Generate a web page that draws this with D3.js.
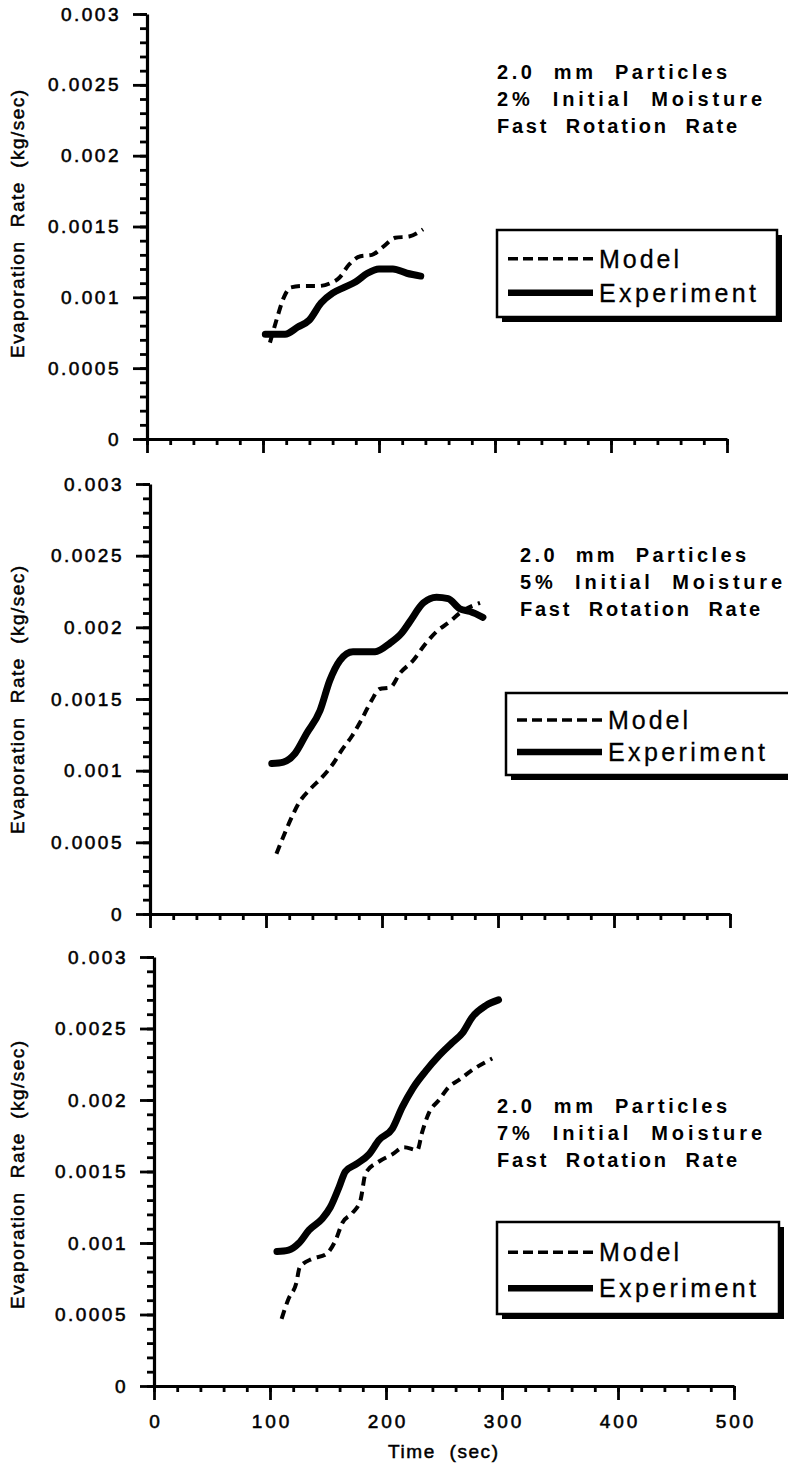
<!DOCTYPE html>
<html><head><meta charset="utf-8">
<script src="https://cdn.jsdelivr.net/npm/d3@7"></script>
<style>
body{margin:0;background:#fff;}
text{font-family:"Liberation Sans",Arial,sans-serif;fill:#000;}
</style></head><body>
<script>
// ---------- data ----------
const xTickValues = [0,100,200,300,400,500];
const xTickLabels = ["0","100","200","300","400","500"];
const yTickValues = [0,0.0005,0.001,0.0015,0.002,0.0025,0.003];
const yTickLabels = ["0","0.0005","0.001","0.0015","0.002","0.0025","0.003"];
const seriesNames = ["Model","Experiment"];
const xTitle = "Time  (sec)";
const yTitle = "Evaporation  Rate  (kg/sec)";

// panel 1 : 2% moisture  [time (s), rate (kg/s)]
const model2 = [[106,0.00068],[112,0.00085],[118,0.001],[124,0.00107],[134,0.00108],[148,0.00108],[158,0.0011],[166,0.00114],[174,0.00123],[184,0.00129],[194,0.0013],[204,0.00136],[214,0.00142],[226,0.00143],[238,0.00148]];
const exp2   = [[102,0.00074],[119,0.00074],[130,0.00079],[140,0.00084],[150,0.00096],[160,0.00103],[170,0.00107],[180,0.00111],[190,0.00117],[200,0.0012],[212,0.0012],[224,0.00117],[236,0.00115]];
const notes2 = ["2.0  mm  Particles","2%  Initial  Moisture","Fast  Rotation  Rate"];

// panel 2 : 5% moisture
const model5 = [[109,0.00042],[116,0.00056],[123.6,0.0007],[128,0.00077],[138,0.00087],[149,0.00096],[158,0.00105],[165,0.00114],[174,0.00124],[182,0.00135],[191,0.00149],[198,0.00157],[207,0.00158],[215.5,0.00168],[227,0.00177],[237,0.00188],[247,0.00197],[258.6,0.00204],[267,0.0021],[284.5,0.00217]];
const exp5   = [[105,0.00105],[115,0.00106],[125,0.00112],[135,0.00126],[146.6,0.00142],[155,0.00163],[163.8,0.00177],[175,0.00183],[194,0.00183],[207,0.00189],[217,0.00196],[224,0.00204],[235.6,0.00217],[247,0.00221],[257,0.0022],[267,0.00213],[276,0.00211],[287,0.00207]];
const notes5 = ["2.0  mm  Particles","5%  Initial  Moisture","Fast  Rotation  Rate"];

// panel 3 : 7% moisture
const model7 = [[110,0.00047],[116,0.00061],[122.7,0.00072],[125.6,0.00083],[136.5,0.00089],[148,0.00092],[156.6,0.00102],[162.3,0.00114],[171,0.00121],[178,0.0013],[182.5,0.00149],[194,0.00157],[205.5,0.00162],[215.5,0.00167],[227,0.00165],[231,0.00177],[237,0.00191],[245.7,0.002],[254,0.00209],[263,0.00214],[274.4,0.00221],[291.6,0.00229]];
const exp7   = [[106,0.00094],[116,0.00095],[125,0.001],[133.6,0.00109],[145,0.00117],[152,0.00125],[159.5,0.00139],[165,0.0015],[174,0.00155],[185.3,0.00162],[194,0.00172],[205.5,0.0018],[214,0.00195],[223,0.00208],[234,0.0022],[245.7,0.00231],[257,0.0024],[266,0.00247],[274.4,0.00258],[286,0.00266],[297,0.0027]];
const notes7 = ["2.0  mm  Particles","7%  Initial  Moisture","Fast  Rotation  Rate"];

// ---------- layout ----------
const panels = [
  {x0:147,x1:727,yT:14, yB:439, model:model2,exp:exp2,notes:notes2,nx:497,ny:79,  noteW:[230,265,240], leg:{x:497,y:230,w:280,h:87}, ylab:224, xlabels:false},
  {x0:150,x1:730,yT:484,yB:914, model:model5,exp:exp5,notes:notes5,nx:520,ny:562, noteW:[226,262,240], leg:{x:506,y:693,w:284,h:82}, ylab:700, xlabels:false},
  {x0:154,x1:734,yT:957,yB:1386,model:model7,exp:exp7,notes:notes7,nx:497,ny:1113,noteW:[230,265,240], leg:{x:497,y:1222,w:282,h:92}, ylab:1175, xlabels:true}
];

const FONT = "Liberation Sans, Arial, sans-serif";
const svg = d3.select("body").append("svg").attr("width",788).attr("height",1467);

panels.forEach(p=>{
  const x = d3.scaleLinear().domain([0,500]).range([p.x0,p.x1]);
  const y = d3.scaleLinear().domain([0,0.003]).range([p.yB,p.yT]);
  const g = svg.append("g");

  // y axis: minor ticks
  g.append("g").attr("transform",`translate(${p.x0},0)`)
    .call(d3.axisLeft(y).tickValues(d3.range(0,31).map(i=>i/10000)).tickSize(7).tickSizeOuter(0).tickFormat(""))
    .call(a=>a.selectAll("line").attr("stroke","#000").attr("stroke-width",2.8))
    .call(a=>a.select(".domain").attr("stroke","#000").attr("stroke-width",3.2));
  // y axis: major ticks + labels
  g.append("g").attr("transform",`translate(${p.x0},0)`)
    .call(d3.axisLeft(y).tickValues(yTickValues).tickSize(14).tickSizeOuter(0).tickPadding(12)
      .tickFormat((d,i)=>yTickLabels[i]))
    .call(a=>a.select(".domain").remove())
    .call(a=>a.selectAll("line").attr("stroke","#000").attr("stroke-width",2.8))
    .call(a=>a.selectAll("text").attr("font-size",19).style("letter-spacing","2.5px")
      .attr("font-family",FONT).attr("fill","#000").attr("stroke","#000").attr("stroke-width",0.55));

  // x axis: minor
  g.append("g").attr("transform",`translate(0,${p.yB})`)
    .call(d3.axisBottom(x).tickValues(d3.range(0,501,20)).tickSize(6).tickSizeOuter(0).tickFormat(""))
    .call(a=>a.selectAll("line").attr("stroke","#000").attr("stroke-width",2.8))
    .call(a=>a.select(".domain").attr("stroke","#000").attr("stroke-width",3.2));
  // x axis: major
  g.append("g").attr("transform",`translate(0,${p.yB})`)
    .call(d3.axisBottom(x).tickValues(xTickValues).tickSize(14).tickSizeOuter(0).tickPadding(15)
      .tickFormat((d,i)=>p.xlabels?xTickLabels[i]:""))
    .call(a=>a.select(".domain").remove())
    .call(a=>a.selectAll("line").attr("stroke","#000").attr("stroke-width",2.8))
    .call(a=>a.selectAll("text").attr("font-size",19).style("letter-spacing","3px").attr("dx","1.5px")
      .attr("font-family",FONT).attr("fill","#000").attr("stroke","#000").attr("stroke-width",0.55));

  // y title
  g.append("text").attr("transform",`translate(24,${p.ylab}) rotate(-90)`)
    .attr("text-anchor","middle").attr("font-size",19).attr("textLength",268).attr("lengthAdjust","spacing")
    .style("white-space","pre").attr("stroke","#000").attr("stroke-width",0.5).text(yTitle);

  // lines
  const line = d3.line().x(d=>x(d[0])).y(d=>y(d[1])).curve(d3.curveMonotoneX);
  g.append("path").datum(p.exp).attr("d",line).attr("fill","none").attr("stroke","#000")
    .attr("stroke-width",7).attr("stroke-linecap","round").attr("stroke-linejoin","round");
  g.append("path").datum(p.model).attr("d",line).attr("fill","none").attr("stroke","#000")
    .attr("stroke-width",4).attr("stroke-dasharray","9,6");

  // annotation
  p.notes.forEach((t,i)=>{
    g.append("text").attr("x",p.nx).attr("y",p.ny+i*27).attr("font-size",20).attr("font-weight","bold")
      .attr("textLength",p.noteW[i]).attr("lengthAdjust","spacing").style("white-space","pre").text(t);
  });

  // legend
  const L = p.leg;
  g.append("rect").attr("x",L.x+5).attr("y",L.y+5).attr("width",L.w).attr("height",L.h).attr("fill","#000");
  g.append("rect").attr("x",L.x).attr("y",L.y).attr("width",L.w).attr("height",L.h).attr("fill","#fff")
    .attr("stroke","#000").attr("stroke-width",2.5);
  const rowY = [L.y+L.h*0.33, L.y+L.h*0.72];
  seriesNames.forEach((nm,i)=>{
    g.append("line").attr("x1",L.x+11).attr("x2",L.x+96).attr("y1",rowY[i]).attr("y2",rowY[i])
      .attr("stroke","#000").attr("stroke-width",i===0?3.5:6.5)
      .attr("stroke-dasharray",i===0?"10,5":null);
    g.append("text").attr("x",L.x+102).attr("y",rowY[i]+9).attr("font-size",25)
      .attr("textLength",i===0?80:157).attr("lengthAdjust","spacing")
      .attr("stroke","#000").attr("stroke-width",0.3).text(nm);
  });
});

// x title
svg.append("text").attr("x",443).attr("y",1458).attr("text-anchor","middle").attr("font-size",19)
  .attr("textLength",110).attr("lengthAdjust","spacing").style("white-space","pre")
  .attr("stroke","#000").attr("stroke-width",0.5).text(xTitle);
</script>
</body></html>
